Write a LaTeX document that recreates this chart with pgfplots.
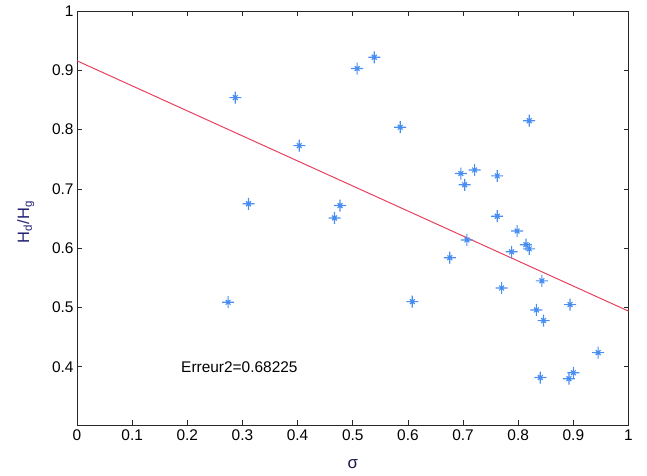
\documentclass[border=0pt]{standalone}
\usepackage{fontspec}
\setmainfont{Liberation Sans}
\usepackage{pgfplots}
\pgfplotsset{compat=1.18}

\definecolor{markblue}{RGB}{72,142,240}
\definecolor{fitred}{RGB}{232,64,96}
\definecolor{labelnavy}{RGB}{35,35,115}
\definecolor{axisgray}{RGB}{40,40,40}

% MATLAB-like '*' marker: long plus with short diagonals
\pgfdeclareplotmark{mstar}{%
  \pgfpathmoveto{\pgfqpoint{0pt}{\pgfplotmarksize}}%
  \pgfpathlineto{\pgfqpoint{0pt}{-\pgfplotmarksize}}%
  \pgfpathmoveto{\pgfqpoint{\pgfplotmarksize}{0pt}}%
  \pgfpathlineto{\pgfqpoint{-\pgfplotmarksize}{0pt}}%
  \pgfpathmoveto{\pgfqpoint{0.4\pgfplotmarksize}{0.4\pgfplotmarksize}}%
  \pgfpathlineto{\pgfqpoint{-0.4\pgfplotmarksize}{-0.4\pgfplotmarksize}}%
  \pgfpathmoveto{\pgfqpoint{0.4\pgfplotmarksize}{-0.4\pgfplotmarksize}}%
  \pgfpathlineto{\pgfqpoint{-0.4\pgfplotmarksize}{0.4\pgfplotmarksize}}%
  \pgfusepathqstroke}

\begin{document}
\begin{tikzpicture}
\useasboundingbox (0,0) rectangle (647bp,476bp);
\begin{axis}[
  at={(77bp,51bp)}, anchor=south west,
  scale only axis, width=551.5bp, height=414bp,
  xmin=0, xmax=1, ymin=0.302, ymax=1,
  xtick={0,0.1,...,1}, ytick={0.4,0.5,...,1},
  xticklabels={0,0.1,0.2,0.3,0.4,0.5,0.6,0.7,0.8,0.9,1},
  yticklabels={0.4,0.5,0.6,0.7,0.8,0.9,1},
  tick align=inside, major tick length=5bp,
  axis line style={axisgray, line width=0.9bp},
  every tick/.style={axisgray, line width=0.8bp},
  tick label style={font=\fontsize{15.5}{18}\selectfont, text=black},
  xticklabel style={yshift=-1bp},
  /pgf/number format/assume math mode=true,
  xlabel={σ},
  xlabel style={font=\fontsize{17}{19}\selectfont, text=labelnavy!70!black,
    at={(axis description cs:0.5,-0.094)}, anchor=center},
  ylabel={H\textsubscript{d}/H\textsubscript{g}},
  ylabel style={font=\fontsize{16.5}{19}\selectfont, text=labelnavy,
    at={(axis description cs:-0.093,0.49)}, anchor=center},
  clip=false,
]
% regression line
\addplot[fitred, line width=1.0bp] coordinates {(0,0.916) (1,0.494)};
% measured points
\addplot[only marks, mark=mstar, mark size=6bp, markblue, line width=1.15bp] coordinates {
  (0.274,0.509) (0.287,0.854) (0.311,0.675) (0.403,0.773) (0.467,0.651)
  (0.477,0.672) (0.508,0.903) (0.539,0.922) (0.586,0.804) (0.608,0.510)
  (0.676,0.584) (0.696,0.726) (0.703,0.707) (0.707,0.614) (0.721,0.732)
  (0.762,0.722) (0.762,0.654) (0.770,0.533) (0.788,0.594) (0.798,0.629)
  (0.814,0.606) (0.820,0.599) (0.820,0.815) (0.833,0.496) (0.840,0.382)
  (0.843,0.545) (0.846,0.478) (0.892,0.380) (0.894,0.505) (0.900,0.390)
  (0.945,0.424)
};
\node[anchor=base west, inner sep=0pt, font=\fontsize{15.5}{18}\selectfont]
  at (axis cs:0.1886,0.3905) {Erreur2=0.68225};
\end{axis}
\end{tikzpicture}
\end{document}
